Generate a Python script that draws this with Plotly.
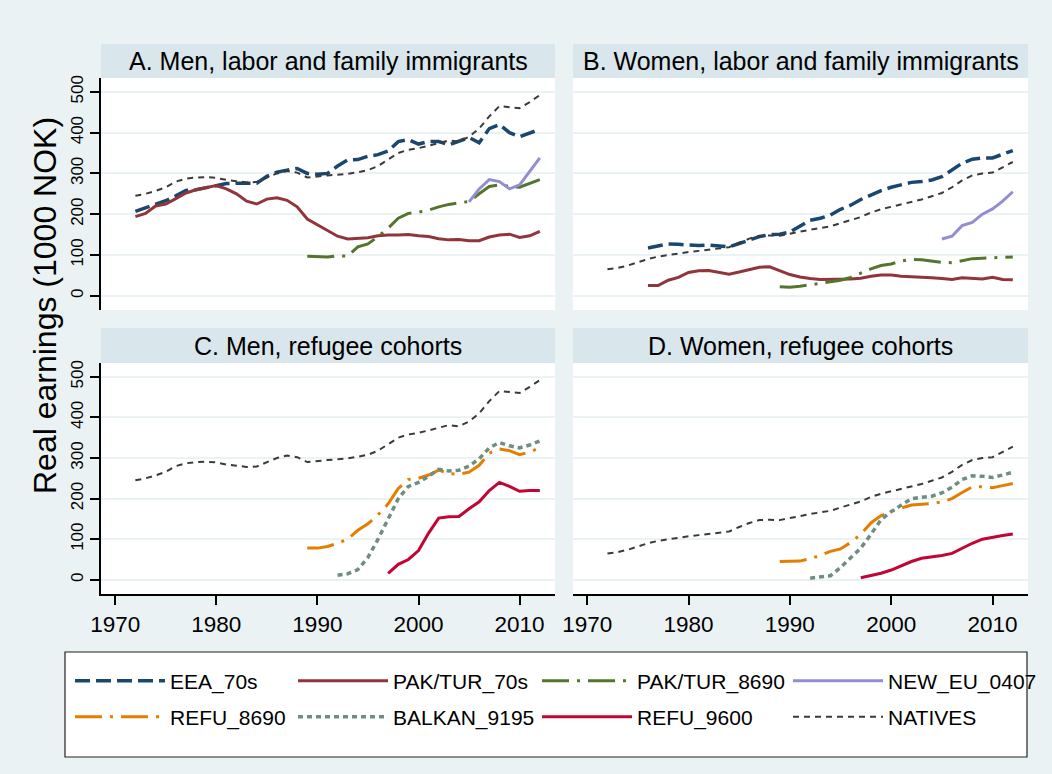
import plotly.graph_objects as go

# ---------------- data (1000 NOK, real earnings) ----------------
yrs_72 = list(range(1972, 2013))
yrs_76 = list(range(1976, 2013))
yrs_89 = list(range(1989, 2013))
yrs_92 = list(range(1992, 2013))
yrs_97 = list(range(1997, 2013))
yrs_05 = list(range(2005, 2013))

# Men
men_natives = [245, 250, 257, 266, 280, 287, 290, 291, 289, 284,
               281, 278, 279, 290, 300, 306, 302, 290, 293, 295,
               297, 299, 303, 308, 318, 333, 350, 358, 362, 368,
               375, 381, 378, 390, 410, 440, 465, 462, 460, 475, 492]
men_eea70 = [207, 215, 225, 233, 245, 258, 260, 265, 270, 275,
             276, 276, 276, 293, 303, 308, 312, 300, 298, 300,
             318, 333, 334, 342, 346, 355, 378, 383, 372, 378,
             378, 370, 378, 388, 375, 410, 420, 400, 390, 398, 408]
men_paktur70 = [194, 202, 220, 225, 238, 252, 260, 265, 270, 262,
                250, 232, 225, 237, 240, 234, 218, 188, 174, 158,
                146, 139, 140, 142, 147, 149, 149, 150, 147, 145,
                140, 137, 138, 135, 135, 144, 149, 151, 143, 147, 158]
men_paktur8690 = [97, 96, 95, 98, 97, 120, 127, 145, 166, 190, 202, 205,
                  210, 218, 224, 228, 231, 250, 268, 272, 268, 266, 275, 285]
men_neweu = [230, 262, 285, 280, 262, 272, 305, 338]
men_refu8690 = [78, 78, 82, 90, 100, 122, 138, 160, 187, 225, 247, 250,
                258, 270, 262, 260, 265, 282, 312, 322, 318, 308, 315, 325]
men_balkan = [11, 15, 25, 55, 100, 148, 200, 230, 240, 255, 272,
              268, 270, 280, 298, 325, 338, 330, 325, 332, 342]
men_refu9600 = [16, 38, 50, 72, 115, 152, 155, 156, 175, 192, 220,
                240, 230, 218, 220, 220]

# Women
wom_natives = [65, 68, 74, 82, 90, 96, 100, 104, 107, 110,
               113, 116, 119, 130, 140, 147, 148, 147, 152, 158,
               162, 166, 170, 178, 186, 193, 204, 212, 218, 224,
               230, 236, 244, 252, 266, 283, 295, 300, 302, 316, 328]
wom_eea70 = [117, 122, 127, 126, 124, 123, 124, 122, 120, 128,
             137, 145, 150, 151, 156, 170, 185, 190, 198, 212,
             222, 236, 247, 258, 266, 272, 278, 280, 284, 292,
             308, 325, 335, 338, 338, 347, 356]
wom_paktur70 = [25, 25, 38, 45, 57, 61, 62, 58, 53, 58,
                64, 70, 71, 62, 52, 46, 42, 40, 40, 40,
                41, 43, 48, 51, 51, 48, 47, 45, 44, 42,
                40, 44, 43, 41, 45, 40, 39]
wom_paktur8690 = [22, 21, 23, 27, 30, 34, 38, 45, 55, 66, 74, 78,
                  85, 89, 88, 85, 82, 81, 86, 91, 92, 93, 93, 95]
wom_neweu = [139, 146, 172, 180, 200, 213, 232, 255]
wom_refu8690 = [45, 45, 46, 52, 60, 70, 76, 92, 112, 140, 158, 168,
                177, 184, 186, 188, 192, 200, 215, 229, 229, 227, 232, 237]
wom_balkan = [4, 8, 10, 30, 55, 78, 112, 148, 168, 185, 200,
              203, 206, 214, 228, 247, 256, 255, 252, 258, 265]
wom_refu9600 = [5, 10, 16, 24, 34, 45, 53, 56, 60, 65, 78,
                90, 100, 105, 109, 113]

panel_titles = ["A. Men, labor and family immigrants",
                "B. Women, labor and family immigrants",
                "C. Men, refugee cohorts",
                "D. Women, refugee cohorts"]
y_ticks = [0, 100, 200, 300, 400, 500]
x_ticks = [1970, 1980, 1990, 2000, 2010]
y_title = "Real earnings (1000 NOK)"

# ---------------- styles ----------------
FONT = "Liberation Sans, Arial, sans-serif"
styles = {
    "EEA_70s":      dict(color="#1A476F", width=3.5, dash="15px,6px"),
    "PAK/TUR_70s":  dict(color="#90353B", width=3.0, dash="solid"),
    "PAK/TUR_8690": dict(color="#55752F", width=3.0, dash="27px,8px,3px,8px"),
    "NEW_EU_0407":  dict(color="#938DD2", width=3.0, dash="solid"),
    "REFU_8690":    dict(color="#E37E00", width=3.0, dash="27px,8px,3px,8px"),
    "BALKAN_9195":  dict(color="#6E8E84", width=3.5, dash="5px,4px"),
    "REFU_9600":    dict(color="#C10534", width=3.0, dash="solid"),
    "NATIVES":      dict(color="#3A3A3A", width=2.0, dash="6px,5px"),
}
legend_order = list(styles.keys())

# panel -> list of (name, years, values)
panels = {
    1: [("EEA_70s", yrs_72, men_eea70), ("PAK/TUR_70s", yrs_72, men_paktur70),
        ("PAK/TUR_8690", yrs_89, men_paktur8690), ("NEW_EU_0407", yrs_05, men_neweu),
        ("NATIVES", yrs_72, men_natives)],
    2: [("EEA_70s", yrs_76, wom_eea70), ("PAK/TUR_70s", yrs_76, wom_paktur70),
        ("PAK/TUR_8690", yrs_89, wom_paktur8690), ("NEW_EU_0407", yrs_05, wom_neweu),
        ("NATIVES", yrs_72, wom_natives)],
    3: [("REFU_8690", yrs_89, men_refu8690), ("BALKAN_9195", yrs_92, men_balkan),
        ("REFU_9600", yrs_97, men_refu9600), ("NATIVES", yrs_72, men_natives)],
    4: [("REFU_8690", yrs_89, wom_refu8690), ("BALKAN_9195", yrs_92, wom_balkan),
        ("REFU_9600", yrs_97, wom_refu9600), ("NATIVES", yrs_72, wom_natives)],
}

W, H = 1052, 774
def px(x): return x / W
def py(y): return 1 - y / H

def legend_id(name):
    i = legend_order.index(name)
    return "legend" if i == 0 else "legend" + str(i + 1)

fig = go.Figure()
shown = set()
for p, series in panels.items():
    sfx = "" if p == 1 else str(p)
    for name, xs, ys in series:
        st = styles[name]
        fig.add_trace(go.Scatter(
            x=xs, y=ys, mode="lines", name=name,
            line=dict(color=st["color"], width=st["width"], dash=st["dash"]),
            legendgroup=name, legend=legend_id(name),
            showlegend=name not in shown,
            xaxis="x" + sfx, yaxis="y" + sfx, hoverinfo="skip"))
        shown.add(name)

# geometry (pixels)
colx = [(101, 555), (573, 1028)]
rowy = [(78, 310), (363, 594)]
strip_top = [44, 328]
leg_cols = [76, 299, 543, 794]   # left end of legend key line
leg_rows = [681, 717]            # legend row centres

layout = dict(
    template="none",
    width=W, height=H,
    margin=dict(l=0, r=0, t=0, b=0, pad=0, autoexpand=False),
    paper_bgcolor="#EAF2F3", plot_bgcolor="#FFFFFF",
    font=dict(family=FONT, color="#000000"),
    showlegend=True,
)
for i, name in enumerate(legend_order):
    r, c = divmod(i, 4)
    layout[legend_id(name)] = dict(
        orientation="h", x=px(leg_cols[c] - 6), y=py(leg_rows[r]),
        xanchor="left", yanchor="middle", bgcolor="rgba(0,0,0,0)",
        font=dict(size=21, family=FONT, color="#000"),
        itemwidth=90, borderwidth=0)

shapes = []
annotations = []
for p in range(1, 5):
    r = (p - 1) // 2
    c = (p - 1) % 2
    sfx = "" if p == 1 else str(p)
    x0, x1 = colx[c]
    y0, y1 = rowy[r]
    xa = dict(domain=[px(x0), px(x1)], anchor="y" + sfx, range=[1968.6, 2013.5],
              showgrid=False, zeroline=False, automargin=False)
    if r == 1:
        xa.update(tickvals=x_ticks, ticks="outside", ticklen=9, tickwidth=1.5,
                  tickcolor="#000", showline=True, linecolor="#000", linewidth=1.5,
                  tickfont=dict(size=22.5, color="#000"))
    else:
        xa.update(showticklabels=False, showline=False, ticks="")
    ya = dict(domain=[py(y1), py(y0)], anchor="x" + sfx, range=[-35, 534],
              tickvals=y_ticks, showgrid=True, gridcolor="#EAF2F3", gridwidth=1.5,
              zeroline=False, automargin=False)
    if c == 0:
        ya.update(ticks="outside", ticklen=9, tickwidth=1.5, tickcolor="#000",
                  showline=True, linecolor="#000", linewidth=1.5, tickangle=-90,
                  tickfont=dict(size=17, color="#000"))
    else:
        ya.update(showticklabels=False, showline=False, ticks="")
    layout["xaxis" + sfx] = xa
    layout["yaxis" + sfx] = ya
    st_top = strip_top[r]
    shapes.append(dict(type="rect", xref="paper", yref="paper",
                       x0=px(x0), x1=px(x1), y0=py(y0), y1=py(st_top),
                       fillcolor="#D9E6EB", line=dict(width=0), layer="below"))
    annotations.append(dict(text=panel_titles[p - 1], xref="paper", yref="paper",
                            x=px((x0 + x1) / 2), y=py((st_top + y0) / 2),
                            xanchor="center", yanchor="middle", showarrow=False,
                            font=dict(size=25, family=FONT, color="#000")))

# legend box
shapes.append(dict(type="rect", xref="paper", yref="paper",
                   x0=px(65), x1=px(1027), y0=py(757), y1=py(652),
                   fillcolor="#FFFFFF", line=dict(color="#222222", width=1.2),
                   layer="below"))
annotations.append(dict(text=y_title, xref="paper", yref="paper",
                        x=px(45), y=py(306), textangle=-90, showarrow=False,
                        xanchor="center", yanchor="middle",
                        font=dict(size=32, family=FONT, color="#000")))
layout["shapes"] = shapes
layout["annotations"] = annotations
fig.update_layout(**layout)
fig.write_html("out.html", config={"displayModeBar": False},
               post_script="document.body.style.margin='0';document.body.style.overflow='hidden';")
